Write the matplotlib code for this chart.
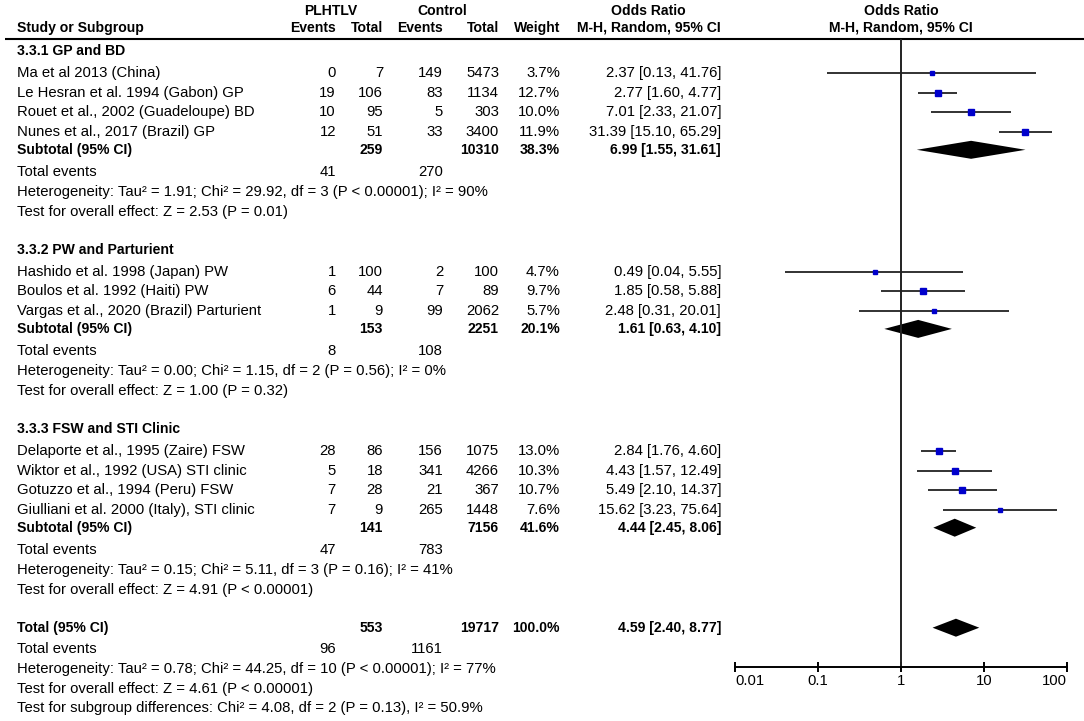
import numpy as np
import matplotlib.pyplot as plt

plt.rcParams['font.family'] = ['Liberation Sans', 'DejaVu Sans']
FS = 10.7      # regular text
FS_B = 10.1    # bold text

# ---- data ----
groups = ["3.3.1 GP and BD", "3.3.2 PW and Parturient", "3.3.3 FSW and STI Clinic"]
study_group = [0, 0, 0, 0, 1, 1, 1, 2, 2, 2, 2]
studies = [
    "Ma et al 2013 (China)",
    "Le Hesran et al. 1994 (Gabon) GP",
    "Rouet et al., 2002 (Guadeloupe) BD",
    "Nunes et al., 2017 (Brazil) GP",
    "Hashido et al. 1998 (Japan) PW",
    "Boulos et al. 1992 (Haiti) PW",
    "Vargas et al., 2020 (Brazil) Parturient",
    "Delaporte et al., 1995 (Zaire) FSW",
    "Wiktor et al., 1992 (USA) STI clinic",
    "Gotuzzo et al., 1994 (Peru) FSW",
    "Giulliani et al. 2000 (Italy), STI clinic",
]
ev_case = [0, 19, 10, 12, 1, 6, 1, 28, 5, 7, 7]
tot_case = [7, 106, 95, 51, 100, 44, 9, 86, 18, 28, 9]
ev_ctrl = [149, 83, 5, 33, 2, 7, 99, 156, 341, 21, 265]
tot_ctrl = [5473, 1134, 303, 3400, 100, 89, 2062, 1075, 4266, 367, 1448]
weight = [3.7, 12.7, 10.0, 11.9, 4.7, 9.7, 5.7, 13.0, 10.3, 10.7, 7.6]
odds = [2.37, 2.77, 7.01, 31.39, 0.49, 1.85, 2.48, 2.84, 4.43, 5.49, 15.62]
ci_lo = [0.13, 1.60, 2.33, 15.10, 0.04, 0.58, 0.31, 1.76, 1.57, 2.10, 3.23]
ci_hi = [41.76, 4.77, 21.07, 65.29, 5.55, 5.88, 20.01, 4.60, 12.49, 14.37, 75.64]

sub_tot_case = [259, 153, 141]
sub_tot_ctrl = [10310, 2251, 7156]
sub_weight = [38.3, 20.1, 41.6]
sub_or = [6.99, 1.61, 4.44]
sub_lo = [1.55, 0.63, 2.45]
sub_hi = [31.61, 4.10, 8.06]
sub_ev_case = [41, 8, 47]
sub_ev_ctrl = [270, 108, 783]
sub_het = [
    "Tau\u00b2 = 1.91; Chi\u00b2 = 29.92, df = 3 (P < 0.00001); I\u00b2 = 90%",
    "Tau\u00b2 = 0.00; Chi\u00b2 = 1.15, df = 2 (P = 0.56); I\u00b2 = 0%",
    "Tau\u00b2 = 0.15; Chi\u00b2 = 5.11, df = 3 (P = 0.16); I\u00b2 = 41%",
]
sub_z = ["Z = 2.53 (P = 0.01)", "Z = 1.00 (P = 0.32)", "Z = 4.91 (P < 0.00001)"]

total_case, total_ctrl, total_weight = 553, 19717, 100.0
total_or, total_lo, total_hi = 4.59, 2.40, 8.77
total_ev_case, total_ev_ctrl = 96, 1161
total_het = "Tau\u00b2 = 0.78; Chi\u00b2 = 44.25, df = 10 (P < 0.00001); I\u00b2 = 77%"
total_z = "Z = 4.61 (P < 0.00001)"
subgroup_test = "Chi\u00b2 = 4.08, df = 2 (P = 0.13), I\u00b2 = 50.9%"

ticks = [0.01, 0.1, 1, 10, 100]
tick_labels = ["0.01", "0.1", "1", "10", "100"]

# ---- layout (pixel coordinates) ----
W, H = 1084, 721
x_left = 17
x_evc, x_totc, x_evk, x_totk, x_w, x_or = 336, 383, 443, 499, 560, 721

fig = plt.figure(figsize=(W / 100, H / 100), dpi=100)
ax = fig.add_axes([0, 0, 1, 1])
ax.set_xlim(0, W)
ax.set_ylim(H, 0)
ax.axis('off')

fa = fig.add_axes([735 / W, 0, 332 / W, 1])
fa.set_facecolor('none')
fa.set_ylim(H, 0)
fa.set_xscale('log')
fa.set_xlim(0.01, 100)


def txt(x, y, s, ha='right', bold=False):
    ax.text(x, y, s, ha=ha, va='center', fontsize=FS_B if bold else FS,
            fontweight='bold' if bold else 'normal')


# header
txt(331, 11, "PLHTLV", 'center', True)
txt(442, 11, "Control", 'center', True)
txt(648, 11, "Odds Ratio", 'center', True)
txt(901, 11, "Odds Ratio", 'center', True)
txt(x_left, 28, "Study or Subgroup", 'left', True)
for x, s in [(x_evc, "Events"), (x_totc, "Total"), (x_evk, "Events"),
             (x_totk, "Total"), (x_w, "Weight"), (x_or, "M-H, Random, 95% CI")]:
    txt(x, 28, s, 'right', True)
txt(901, 28, "M-H, Random, 95% CI", 'center', True)
ax.hlines(39, 5, W, color='black', lw=1.5)

step = 20.0
study_step = 19.7
y = 51
for g, name in enumerate(groups):
    txt(x_left, y, name, 'left', True)
    y += 22
    for i in [k for k, sg in enumerate(study_group) if sg == g]:
        txt(x_left, y, studies[i], 'left')
        txt(x_evc, y, str(ev_case[i]))
        txt(x_totc, y, str(tot_case[i]))
        txt(x_evk, y, str(ev_ctrl[i]))
        txt(x_totk, y, str(tot_ctrl[i]))
        txt(x_w, y, f"{weight[i]:.1f}%")
        txt(x_or, y, f"{odds[i]:.2f} [{ci_lo[i]:.2f}, {ci_hi[i]:.2f}]")
        fa.plot([ci_lo[i], ci_hi[i]], [y, y], color='#222222', lw=1.3,
                solid_capstyle='butt')
        fa.plot(odds[i], y, marker='s', color='#0000cc', ls='none',
                markersize=1.7 * np.sqrt(weight[i]) / 1.389)
        y += study_step
    y -= 2
    txt(x_left, y, "Subtotal (95% CI)", 'left', True)
    txt(x_totc, y, str(sub_tot_case[g]), bold=True)
    txt(x_totk, y, str(sub_tot_ctrl[g]), bold=True)
    txt(x_w, y, f"{sub_weight[g]:.1f}%", bold=True)
    txt(x_or, y, f"{sub_or[g]:.2f} [{sub_lo[g]:.2f}, {sub_hi[g]:.2f}]", bold=True)
    fa.fill([sub_lo[g], sub_or[g], sub_hi[g], sub_or[g]], [y, y - 9, y, y + 9],
            color='black', lw=0)
    y += 22
    txt(x_left, y, "Total events", 'left')
    txt(x_evc, y, str(sub_ev_case[g]))
    txt(x_evk, y, str(sub_ev_ctrl[g]))
    y += step
    txt(x_left, y, "Heterogeneity: " + sub_het[g], 'left')
    y += step
    txt(x_left, y, "Test for overall effect: " + sub_z[g], 'left')
    y += 38

txt(x_left, y, "Total (95% CI)", 'left', True)
txt(x_totc, y, str(total_case), bold=True)
txt(x_totk, y, str(total_ctrl), bold=True)
txt(x_w, y, f"{total_weight:.1f}%", bold=True)
txt(x_or, y, f"{total_or:.2f} [{total_lo:.2f}, {total_hi:.2f}]", bold=True)
fa.fill([total_lo, total_or, total_hi, total_or], [y, y - 9, y, y + 9],
        color='black', lw=0)
y += 21
txt(x_left, y, "Total events", 'left')
txt(x_evc, y, str(total_ev_case))
txt(x_evk, y, str(total_ev_ctrl))
y += step
txt(x_left, y, "Heterogeneity: " + total_het, 'left')
y += step
txt(x_left, y, "Test for overall effect: " + total_z, 'left')
y += 19
txt(x_left, y, "Test for subgroup differences: " + subgroup_test, 'left')

# axis of the forest panel
axis_y = 667
fa.vlines(1, 39, axis_y, color='#222222', lw=1.4)
for s in ['top', 'left', 'right']:
    fa.spines[s].set_visible(False)
fa.spines['bottom'].set_position(('data', axis_y))
fa.spines['bottom'].set_linewidth(1.4)
fa.set_xticks(ticks)
fa.set_xticklabels(tick_labels)
fa.minorticks_off()
fa.set_yticks([])
fa.tick_params(axis='x', direction='inout', length=7.5, width=1.4,
               labelsize=FS, pad=1)
labs = fa.get_xticklabels()
labs[0].set_ha('left')
labs[-1].set_ha('right')

fig.savefig('out.png', dpi=100)
